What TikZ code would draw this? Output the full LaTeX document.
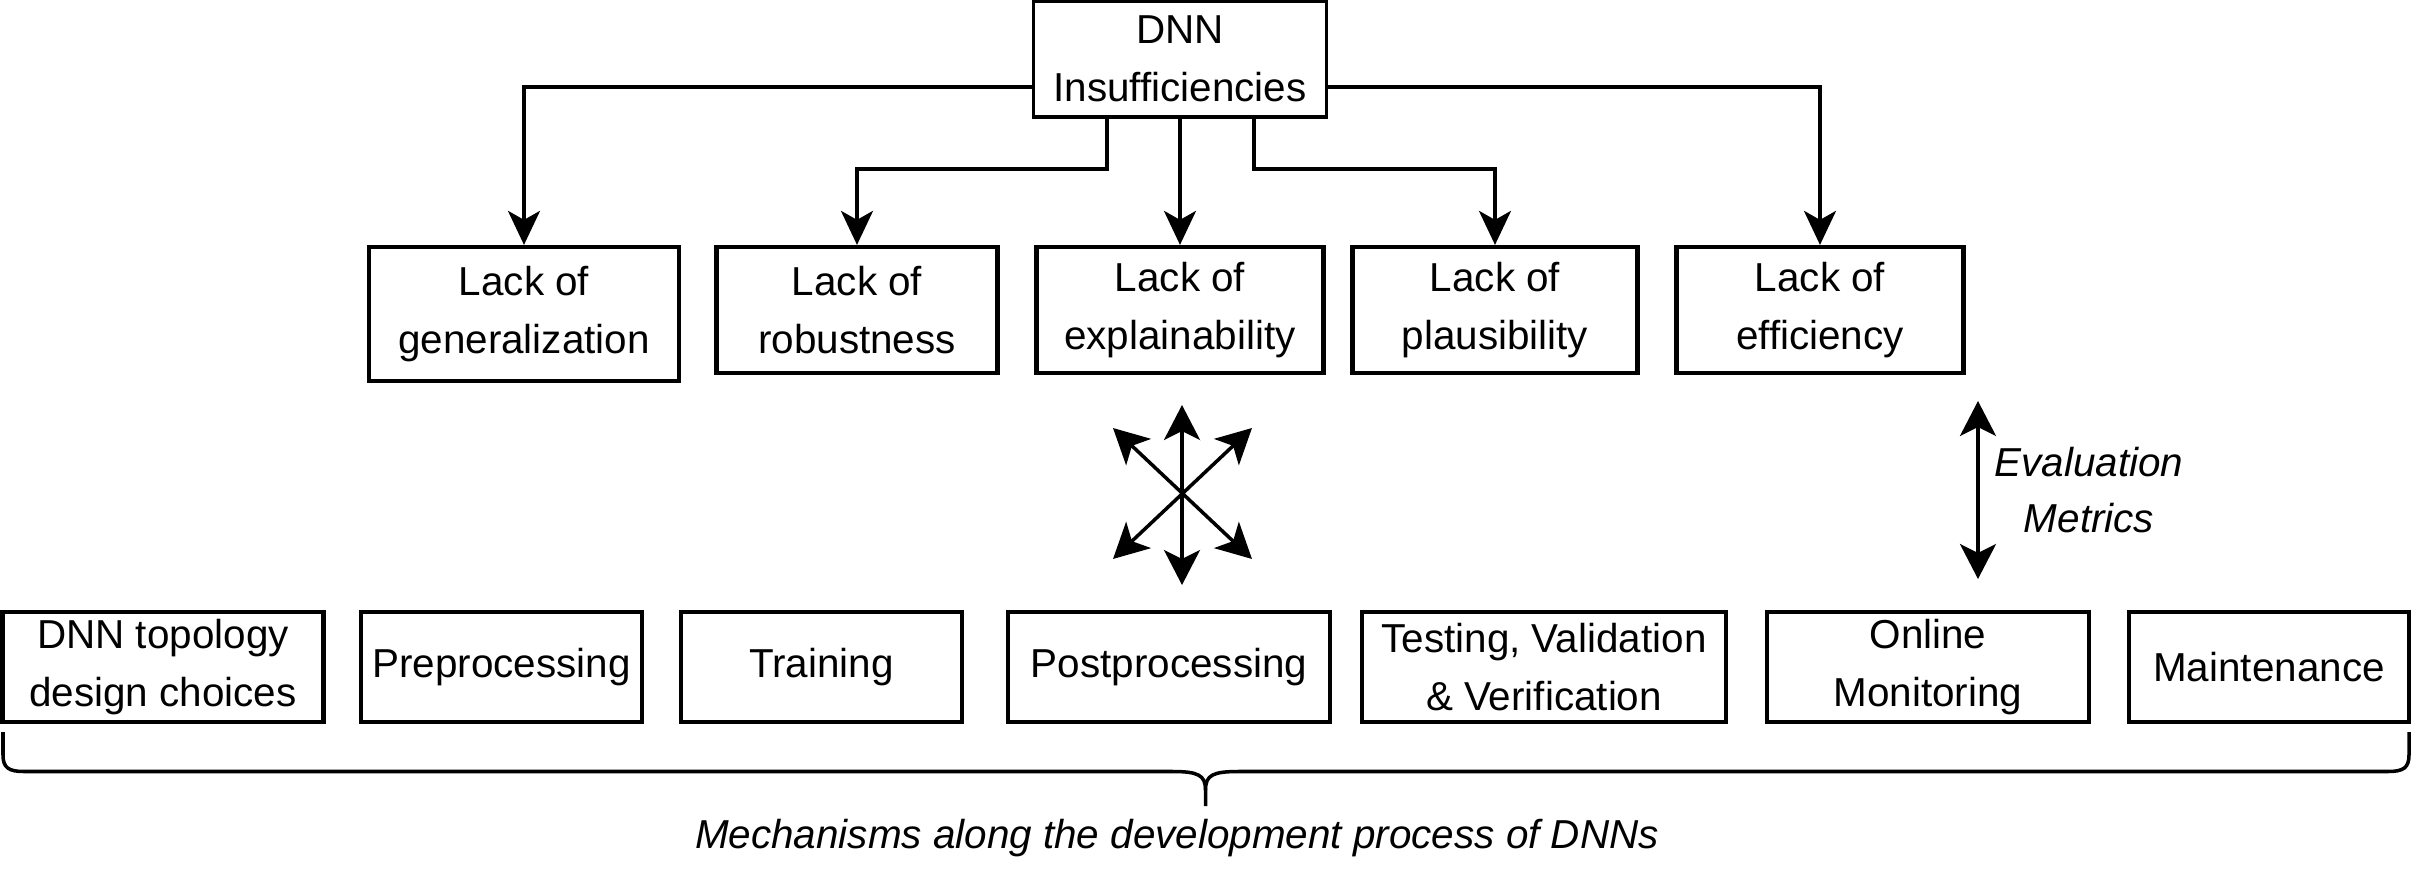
\documentclass[tikz,border=0pt]{standalone}
\usepackage{fontspec}
\setmainfont{Liberation Sans}
\usetikzlibrary{arrows.meta}

\begin{document}
\begin{tikzpicture}[x=1cm,y=1cm,line width=1pt,font=\fontsize{11.5}{16.5}\selectfont,
  box/.style={draw,line width=1.2pt,align=center,inner sep=0pt,minimum height=1.1cm},
  slanted/.style={font=\fontsize{11.5}{16}\selectfont\itshape,align=center},
  arr/.style={-{Stealth[length=3.4mm,width=3.2mm,inset=.9mm]}},
  dbl/.style={{Stealth[length=3.5mm,width=3.6mm,inset=.9mm]}-{Stealth[length=3.5mm,width=3.6mm,inset=.9mm]}}]
\useasboundingbox (0,0) rectangle (24.12,-8.72);
% insufficiencies
\node[box,line width=1pt,minimum width=2.93cm,minimum height=1.16cm] (dnn) at (11.80,-.59) {DNN\\Insufficiencies};
\node[box,minimum width=3.10cm,minimum height=1.34cm] (gen) at (5.24,-3.14) {Lack of\\generalization};
\node[box,minimum width=2.81cm,minimum height=1.26cm] (rob) at (8.57,-3.10) {Lack of\\robustness};
\node[box,minimum width=2.87cm,minimum height=1.26cm] (expl) at (11.80,-3.10) {Lack of\\explainability};
\node[box,minimum width=2.85cm,minimum height=1.26cm] (plaus) at (14.95,-3.10) {Lack of\\plausibility};
\node[box,minimum width=2.87cm,minimum height=1.26cm] (eff) at (18.20,-3.10) {Lack of\\efficiency};
\draw[arr] ([yshift=-2.8mm]dnn.west) -| (gen);
\draw[arr] ([xshift=-7.3mm]dnn.south) -- ++(0,-.5) -| (rob);
\draw[arr] (dnn) -- (expl);
\draw[arr] ([xshift=7.4mm]dnn.south) -- ++(0,-.5) -| (plaus);
\draw[arr] ([yshift=-2.8mm]dnn.east) -| (eff);
% many-to-many
\coordinate (xn) at (11.82,-4.05);
\coordinate (xs) at (11.82,-5.85);
\coordinate (xnw) at (11.13,-4.28);
\coordinate (xne) at (12.52,-4.28);
\coordinate (xsw) at (11.13,-5.59);
\coordinate (xse) at (12.52,-5.59);
\draw[dbl] (xn) -- (xs);
\draw[dbl] (xnw) -- (xse);
\draw[dbl] (xne) -- (xsw);
\coordinate (evt) at (19.78,-4.01);
\coordinate (evb) at (19.78,-5.79);
\draw[dbl] (evt) -- (evb);
\node[slanted] (eval) at (20.89,-4.90) {Evaluation\\Metrics};
% mechanisms
\node[box,minimum width=3.21cm] (topo) at (1.63,-6.67) {DNN topology\\design choices};
\node[box,minimum width=2.81cm] (pre) at (5.015,-6.67) {Preprocessing};
\node[box,minimum width=2.81cm] (train) at (8.215,-6.67) {Training};
\node[box,minimum width=3.22cm] (post) at (11.69,-6.67) {Postprocessing};
\node[box,minimum width=3.64cm] (test) at (15.44,-6.67) {Testing, Validation\\\& Verification};
\node[box,minimum width=3.22cm] (online) at (19.28,-6.67) {Online\\Monitoring};
\node[box,minimum width=2.80cm] (maint) at (22.69,-6.67) {Maintenance};
% brace
\coordinate (bl) at (.03,-7.32);
\coordinate (br) at (24.09,-7.32);
\coordinate (bm) at (12.055,-8.06);
\draw (bl) -- (.03,-7.55) .. controls (.03,-7.68) and (.09,-7.715) .. (.24,-7.715) -- (11.72,-7.715)
  .. controls (11.98,-7.715) and (12.055,-7.75) .. (12.055,-7.90) -- (bm);
\draw (br) -- (24.09,-7.55) .. controls (24.09,-7.68) and (24.03,-7.715) .. (23.88,-7.715) -- (12.39,-7.715)
  .. controls (12.13,-7.715) and (12.055,-7.75) .. (12.055,-7.90);
\node[slanted] (mech) at (11.77,-8.38) {Mechanisms along the development process of DNNs};
\end{tikzpicture}
\end{document}
